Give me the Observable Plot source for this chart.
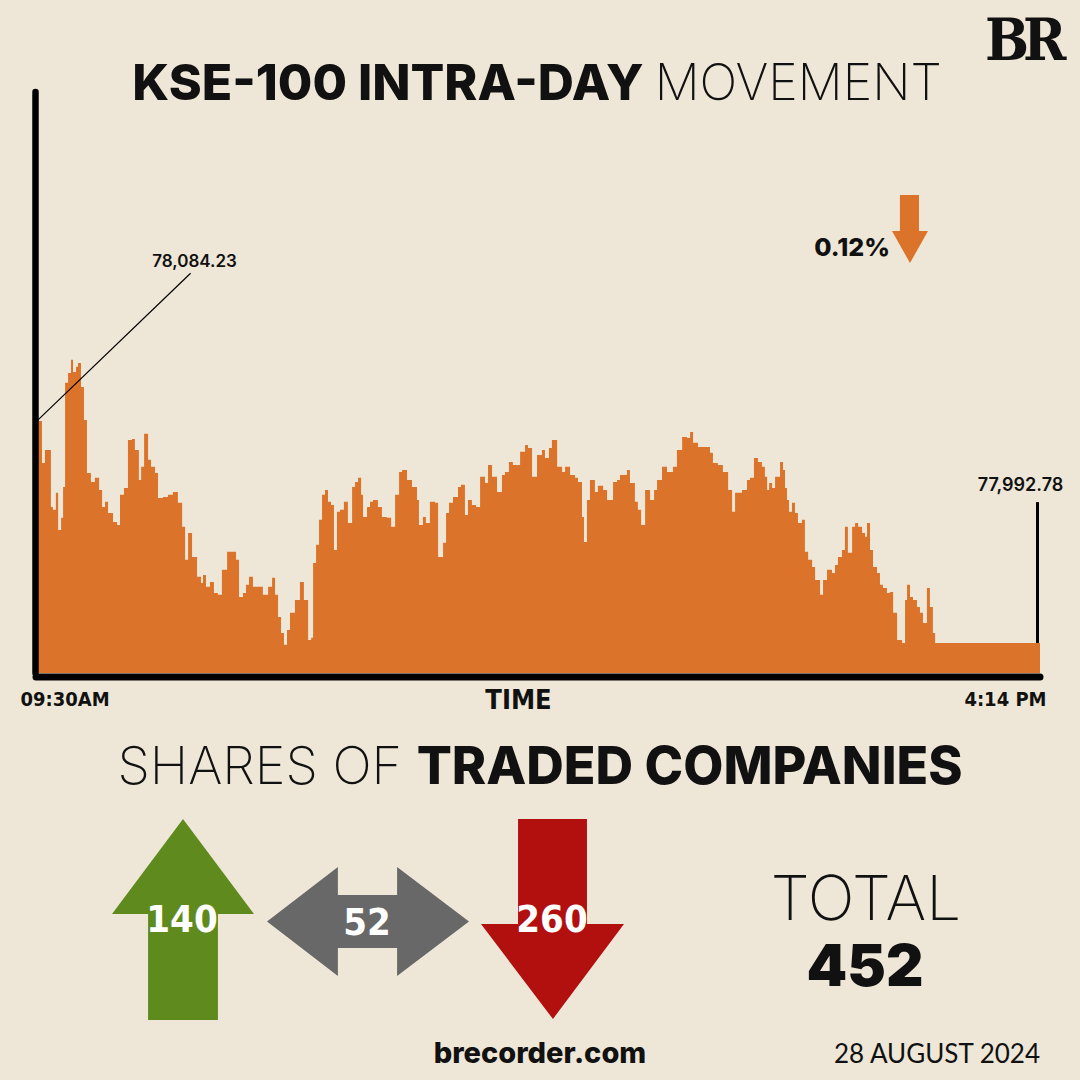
<!DOCTYPE html>
<html>
<head>
<meta charset="utf-8">
<script src="https://cdn.jsdelivr.net/npm/d3@7"></script>
<script src="https://cdn.jsdelivr.net/npm/@observablehq/plot@0.6"></script>
<style>
  html, body { margin: 0; padding: 0; background: #EEE7D7; }
  #root { position: relative; width: 1080px; height: 1080px; background: #EEE7D7; overflow: hidden; }
  #chart { position: absolute; left: 0; top: 0; }
  #overlay { position: absolute; left: 0; top: 0; pointer-events: none; }
  .icon { position: absolute; }
</style>
</head>
<body>
<div id="root">
  <div id="chart"></div>
  <div class="icon" id="upArrow"></div>
  <div class="icon" id="sideArrow"></div>
  <div class="icon" id="downArrow"></div>
  <div class="icon" id="smallArrow"></div>
  <svg id="overlay" width="1080" height="1080"></svg>
</div>
<script>
// ---------------- DATA ----------------
// minutes after the 09:30 open
const minutes = [0,2.4,3.6,4.8,6.0,6.8,8.0,8.9,10.1,10.9,11.7,12.9,14.1,14.9,16.1,16.9,18.1,19.3,20.5,22.1,23.7,25.4,26.6,27.8,29.0,31.0,32.6,33.8,35.4,37.0,38.6,39.8,41.4,42.3,43.5,45.1,46.3,47.9,49.1,51.1,53.1,55.1,57.1,58.8,60.0,61.2,62.8,64.8,66.4,67.2,68.4,70.0,71.6,73.2,74.8,76.9,79.3,80.5,81.7,83.3,84.5,85.7,87.3,89.3,91.3,93.4,95.0,96.2,97.4,98.6,99.8,101.0,102.2,104.2,106.2,107.8,109.5,110.7,111.5,112.7,113.9,115.1,116.3,117.5,118.7,119.9,121.1,122.3,123.9,125.5,127.2,128.4,129.6,130.8,131.6,133.2,134.4,135.6,137.6,139.2,141.2,142.9,144.5,146.1,147.3,149.3,151.3,153.3,154.1,155.7,156.9,158.5,160.6,161.8,163.8,165.0,166.2,167.8,169.8,171.0,172.6,173.8,175.4,177.1,178.7,180.7,181.9,183.5,185.5,187.5,188.7,190.3,191.9,193.6,194.8,196.8,198.0,199.6,201.6,203.6,204.8,206.4,207.6,209.7,211.7,212.9,214.9,216.9,218.1,219.7,220.5,221.7,222.9,224.9,226.1,228.2,229.8,232.2,233.8,235.0,237.8,239.0,241.0,242.2,243.5,245.1,247.1,248.7,249.9,251.9,253.9,256.3,257.9,260.0,262.0,263.2,264.4,266.4,269.2,271.2,272.4,274.4,276.4,278.5,280.1,281.3,284.1,286.1,287.3,288.9,290.5,292.1,293.3,294.2,295.0,296.2,297.4,299.4,300.6,301.4,302.2,303.0,304.2,305.4,306.6,308.2,309.4,310.7,312.3,313.5,315.5,316.7,318.3,320.3,321.5,322.7,324.3,325.5,326.7,328.4,329.6,330.8,332.4,333.6,334.4,335.6,336.8,338.4,339.6,340.8,342.4,343.6,344.9,346.5,348.5,349.7,350.5,351.7,352.9,354.5,355.7,356.9,358.5,359.7,360.9,361.8,404];
// KSE-100 index level
const levels = [78084.23,78066.9,78072.3,78072.3,78048.8,78047.6,78054.6,78039.3,78044.3,78057.0,78099.9,78104.0,78109.4,78104.4,78106.5,78108.1,78098.2,78084.6,78062.8,78059.1,78060.8,78055.8,78048.8,78050.9,78046.3,78042.6,78041.4,78053.8,78056.6,78076.4,78076.8,78072.3,78059.9,78065.3,78078.9,78068.2,78065.3,78062.8,78052.5,78052.9,78053.8,78055.0,78050.5,78040.6,78027.0,78038.1,78028.2,78020.0,78017.5,78020.8,78015.9,78017.9,78013.4,78012.6,78022.9,78030.3,78030.3,78027.0,78011.7,78013.4,78016.7,78020.0,78015.9,78015.9,78012.6,78015.9,78019.6,78012.6,78003.5,77996.9,77992.0,77998.1,78005.2,78010.5,78017.9,78010.5,77994.0,77994.9,78025.7,78033.2,78043.5,78053.8,78055.8,78050.9,78049.6,78031.1,78046.8,78047.6,78050.9,78042.2,78057.0,78059.1,78060.8,78053.8,78044.7,78048.8,78050.9,78051.7,78048.8,78044.7,78044.3,78040.6,78053.8,78063.2,78064.0,78059.9,78057.0,78051.7,78041.4,78044.7,78042.2,78050.9,78050.5,78028.2,78034.0,78046.3,78050.5,78052.9,78057.0,78057.9,78045.5,78051.7,78049.6,78048.8,78061.2,78058.7,78066.1,78061.2,78055.0,78062.0,78063.2,78067.3,78066.1,78066.1,78071.5,78074.3,78073.1,78061.2,78070.2,78072.3,78069.0,78073.1,78076.4,78065.3,78063.2,78065.3,78062.0,78060.8,78059.1,78044.7,78034.4,78051.7,78059.9,78055.0,78057.5,78055.8,78051.7,78059.1,78059.9,78062.0,78064.0,78058.7,78050.9,78047.6,78041.4,78055.8,78051.7,78055.8,78059.9,78065.3,78063.2,78065.3,78072.3,78077.6,78077.2,78079.7,78075.2,78073.5,78073.5,78071.1,78066.9,78066.1,78063.2,78055.8,78046.8,78054.6,78055.8,78059.9,78060.8,78069.0,78067.3,78065.3,78061.2,78055.8,78058.7,78056.6,78061.2,78067.3,78064.0,78056.6,78051.7,78046.8,78050.5,78046.3,78042.2,78043.5,78030.3,78027.0,78024.1,78018.7,78012.6,78018.7,78022.9,78021.6,78024.9,78028.2,78031.1,78040.6,78029.9,78040.6,78042.2,78040.6,78038.1,78036.5,78042.2,78031.1,78024.1,78021.6,78016.7,78015.4,78013.4,78013.8,78005.2,77994.0,77992.8,78010.5,78016.7,78011.7,78010.5,78007.6,78005.2,78001.0,78015.4,78007.6,77996.9,77992.8,77992.78];
const timeLabels = ["09:30AM", "4:14 PM"];
const openValue = 78084.23;
const closeValue = 77992.78;
const changePct = "0.12%";
const shareCategories = ["Up", "Unchanged", "Down"];
const shareCounts = [140, 52, 260];
const totalCount = 452;
const dateLabel = "28 AUGUST 2024";

// ---------------- CHART ----------------
const n = Math.min(minutes.length, levels.length);
const series = d3.range(n).map(i => ({m: minutes[i], v: levels[i]}));
const yMin = 77980.4, yMax = 78219.7;
const orange = "#DC732A";
const condensed = "DejaVu Sans Condensed, DejaVu Sans, sans-serif";
const sans = "Inter, Lato, Roboto, sans-serif";
const fmt = d3.format(",.2f");

const startPt = {m: 0, v: openValue};
const endPt = {m: 404, v: closeValue};

const chart = Plot.plot({
  width: 1080,
  height: 720,
  marginTop: 92,
  marginBottom: 47,
  marginLeft: 36,
  marginRight: 40,
  style: {background: "transparent", overflow: "visible"},
  x: {domain: [0, 404], axis: null},
  y: {domain: [yMin, yMax], axis: null},
  marks: [
    Plot.areaY(series, {x: "m", y1: yMin, y2: "v", fill: orange, curve: "step-after"}),
    // axes
    Plot.ruleX([0], {y1: yMin, y2: yMax, stroke: "#000", strokeWidth: 6.5, dx: -1, strokeLinecap: "round"}),
    Plot.ruleY([yMin], {x1: 0, x2: 404, stroke: "#000", strokeWidth: 7, dy: 3.5, strokeLinecap: "round"}),
    // open annotation
    Plot.link([startPt], {x1: "m", y1: "v", x2: d => d.m + 62, y2: d => d.v + 61, stroke: "#000", strokeWidth: 1.2}),
    Plot.text([startPt], {x: d => d.m + 62, y: d => d.v + 61, text: d => fmt(d.v), dx: 4, dy: -12,
      fontSize: 17, fontWeight: 600, fontFamily: sans, fill: "#111"}),
    // close annotation
    Plot.ruleX([endPt], {x: "m", y1: "v", y2: d => d.v + 58, stroke: "#000", strokeWidth: 3, dx: -3}),
    Plot.text([endPt], {x: "m", y: d => d.v + 58, text: d => fmt(d.v), dx: -20, dy: -17,
      fontSize: 18, fontWeight: 600, fontFamily: sans, fill: "#111"}),
    // time labels
    Plot.text([timeLabels[0]], {x: 0, frameAnchor: "bottom", lineAnchor: "middle", text: d => d, textAnchor: "start", dx: -16, dy: 26,
      fontSize: 20, fontWeight: "bold", fontFamily: condensed, fill: "#111"}),
    Plot.text([timeLabels[1]], {x: 404, frameAnchor: "bottom", lineAnchor: "middle", text: d => d, textAnchor: "end", dx: 6, dy: 26,
      fontSize: 20, fontWeight: "bold", fontFamily: condensed, fill: "#111"}),
    Plot.text(["TIME"], {frameAnchor: "bottom", lineAnchor: "middle", text: d => d, dx: -20, dy: 27,
      fontSize: 27, fontWeight: "bold", fontFamily: condensed, fill: "#111"})
  ]
});
document.getElementById("chart").appendChild(chart);

// ---------------- ICONS ----------------
const shareColors = ["#5F8A1E", "#686868", "#B20F0F"];
function icon(id, left, top, w, h, color, poly) {
  const el = document.getElementById(id);
  Object.assign(el.style, {left: left + "px", top: top + "px", width: w + "px", height: h + "px",
    background: color, clipPath: "polygon(" + poly + ")"});
}
icon("upArrow", 112, 819, 142, 201, shareColors[0],
  "50% 0, 100% 47.3%, 74.6% 47.3%, 74.6% 100%, 25.4% 100%, 25.4% 47.3%, 0 47.3%");
icon("sideArrow", 267, 867, 202, 109, shareColors[1],
  "0 50%, 35.1% 0, 35.1% 25.7%, 64.4% 25.7%, 64.4% 0, 100% 50%, 64.4% 100%, 64.4% 74.3%, 35.1% 74.3%, 35.1% 100%");
icon("downArrow", 481, 819, 143, 200, shareColors[2],
  "25.9% 0, 74.1% 0, 74.1% 52.5%, 100% 52.5%, 50.3% 100%, 0 52.5%, 25.9% 52.5%");
icon("smallArrow", 892, 195, 36, 68, orange,
  "22% 0, 75% 0, 75% 53%, 100% 53%, 50% 100%, 0 53%, 22% 53%");

// ---------------- TEXT ----------------
const countX = [182, 367, 552];
const countY = [932, 935, 932];
const ov = document.getElementById("overlay");
ov.innerHTML = `
  <text x="985" y="60" font-family="DejaVu Serif Condensed, DejaVu Serif, serif" font-weight="bold" font-size="58" letter-spacing="-6" fill="#111">BR</text>
  <text x="537" y="100" text-anchor="middle" font-family="${sans}" font-size="50" fill="#111"><tspan font-weight="800">KSE-100 INTRA-DAY </tspan><tspan font-weight="200">MOVEMENT</tspan></text>
  <text x="890" y="256" text-anchor="end" font-family="${sans}" font-weight="800" font-size="25" fill="#111">${changePct}</text>
  <text x="540" y="784" text-anchor="middle" font-family="${sans}" font-size="52" fill="#111"><tspan font-weight="200">SHARES OF </tspan><tspan font-weight="800">TRADED COMPANIES</tspan></text>
  ${shareCounts.map((c, i) => `<text x="${countX[i]}" y="${countY[i]}" text-anchor="middle" font-family="${condensed}" font-weight="bold" font-size="38" fill="#fff">${c}</text>`).join("")}
  <text x="866" y="920" text-anchor="middle" font-family="${sans}" font-weight="200" font-size="62" fill="#111">TOTAL</text>
  <text x="865" y="986" text-anchor="middle" font-family="${sans}" font-weight="900" font-size="58" fill="#111">${totalCount}</text>
  <text x="540" y="1063" text-anchor="middle" font-family="${sans}" font-weight="800" font-size="29" fill="#111">brecorder.com</text>
  <text x="937" y="1063" text-anchor="middle" font-family="Lato, ${sans}" font-weight="400" font-size="26" fill="#111">${dateLabel}</text>
`;
</script>
</body>
</html>
